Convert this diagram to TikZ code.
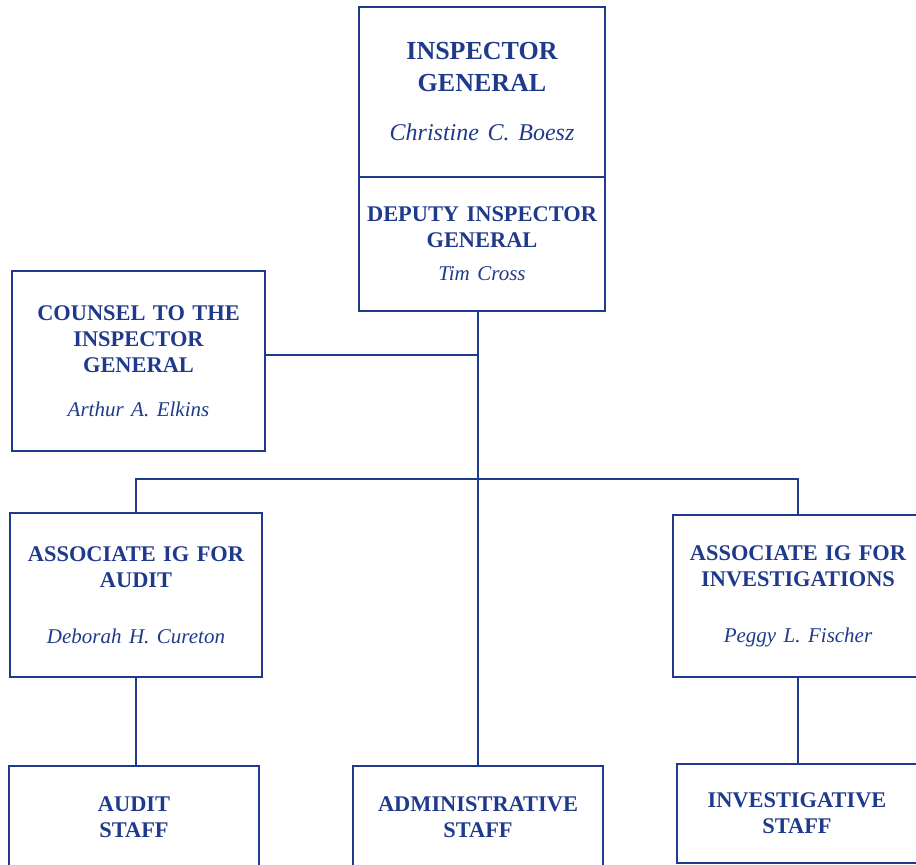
\documentclass[tikz,border=0pt]{standalone}
\usepackage{fontspec}
\setmainfont{Liberation Serif}
\usepackage{xcolor}
\usepackage{tikz}
\usetikzlibrary{calc}
\definecolor{orgNavy}{HTML}{1F3A8C}
\newcommand{\orgtitle}{\fontsize{11.2}{13}\selectfont\bfseries}
\newcommand{\orgname}{\fontsize{10.5}{13}\selectfont\mdseries\itshape}
\tikzset{
  orgbox/.style 2 args={rectangle, draw=orgNavy, line width=1pt, align=center, text=orgNavy, font=\orgtitle, text width=118pt, minimum width=#1, minimum height=#2, inner sep=0pt},
  orglink/.style={draw=orgNavy, line width=1pt},
}

\begin{document}
\begin{tikzpicture}[x=0.5pt,y=-0.5pt]
  \clip (0,0) rectangle (916,865);
  \node[orgbox={123pt}{85pt}, font=\fontsize{13}{16}\selectfont\bfseries] (ig) at (482,92) {INSPECTOR\\GENERAL\par\vspace{10.5pt}{\fontsize{12}{14}\selectfont\mdseries\itshape Christine C. Boesz\par}};
  \node[orgbox={123pt}{67pt}] (deputy) at (482,244) {DEPUTY INSPECTOR\\GENERAL\par\vspace{3.5pt}{\orgname Tim Cross\par}};

  \node[orgbox={126.5pt}{90pt}] (counsel) at (138.5,361) {COUNSEL TO THE\\INSPECTOR\\GENERAL\par\vspace{9pt}{\orgname Arthur A. Elkins\par}};

  \node[orgbox={126pt}{82pt}] (assocaudit) at (136,595) {ASSOCIATE IG FOR\\AUDIT\par\vspace{15pt}{\orgname Deborah H. Cureton\par}};
  \node[orgbox={125pt}{81pt}] (associnv) at (798,596) {ASSOCIATE IG FOR\\INVESTIGATIONS\par\vspace{15pt}{\orgname Peggy L. Fischer\par}};

  \node[orgbox={125pt}{51pt}] (auditstaff) at (134,817) {AUDIT\\STAFF};
  \node[orgbox={125pt}{51pt}] (adminstaff) at (478,817) {ADMINISTRATIVE\\STAFF};
  \node[orgbox={120pt}{49.5pt}] (invstaff) at (797,813.5) {INVESTIGATIVE\\STAFF};

  \coordinate (bus) at (478,479);
  \draw[orglink] (deputy.south -| adminstaff.north) -- (adminstaff.north);
  \draw[orglink] ([yshift=3pt]counsel.east) -- ([yshift=3pt]counsel.east -| adminstaff.north);
  \draw[orglink] (assocaudit.north) |- (bus) -| (associnv.north);
  \draw[orglink] (assocaudit.south) -- (assocaudit.south |- auditstaff.north);
  \draw[orglink] (associnv.south) -- (associnv.south |- invstaff.north);
\end{tikzpicture}
\end{document}
